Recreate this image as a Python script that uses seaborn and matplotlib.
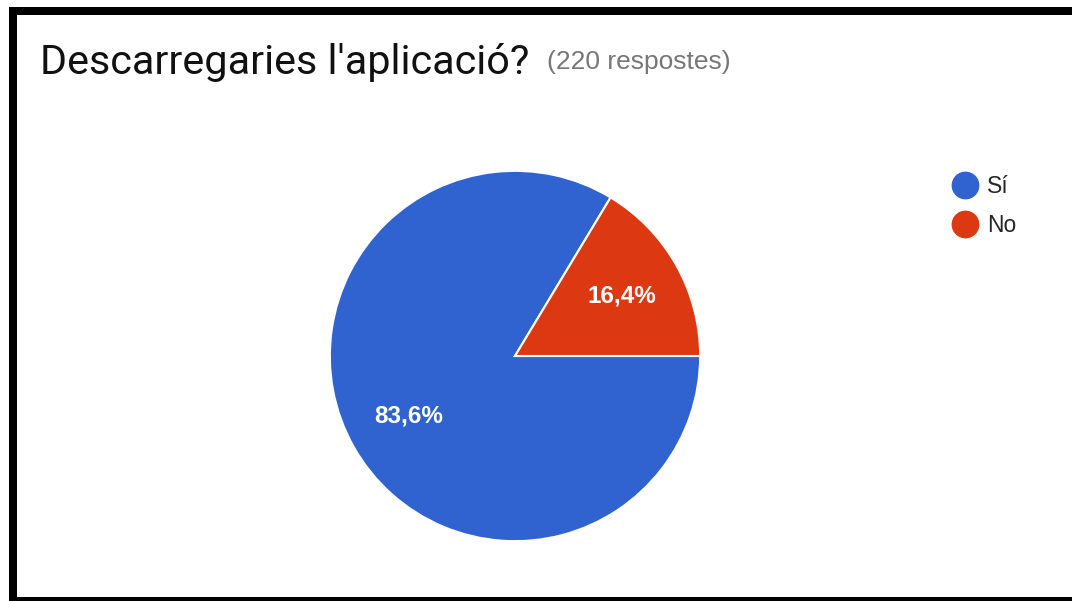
import matplotlib
matplotlib.use("Agg")
import matplotlib.pyplot as plt
from matplotlib.lines import Line2D
from matplotlib.patches import Rectangle
import seaborn as sns

# Survey answers
title = "Descarregaries l'aplicació?"
subtitle = "(220 respostes)"
answers = ["Sí", "No"]
counts = [184, 36]
colors = ["#3063cf", "#dc3912"]

sns.set_theme(style="white")
plt.rcParams["font.family"] = ["Liberation Sans", "DejaVu Sans"]

W, H = 1072, 601
fig = plt.figure(figsize=(W / 100, H / 100), dpi=100)
fig.patch.set_facecolor("white")

# Open black frame on left, top and bottom
frame = dict(transform=fig.transFigure, color="black", lw=0, zorder=10)
fig.add_artist(Rectangle((9 / W, 0), 8 / W, 1 - 7 / H, **frame))
fig.add_artist(Rectangle((9 / W, 1 - 15 / H), 1 - 9 / W, 8 / H, **frame))
fig.add_artist(Rectangle((9 / W, 0), 1 - 9 / W, 4 / H, **frame))

# Pie
cx, cy, r = 515, 356, 187
ax = fig.add_axes([(cx - r) / W, (H - cy - r) / H, 2 * r / W, 2 * r / H])
start = 360 * counts[1] / sum(counts)
wedges, _, autotexts = ax.pie(
    counts,
    colors=colors,
    startangle=start,
    counterclock=True,
    autopct=lambda p: f"{p:.1f}%".replace(".", ","),
    pctdistance=0.66,
    wedgeprops=dict(edgecolor="white", linewidth=1.5),
    textprops=dict(color="white", fontsize=17.5, fontweight="bold"),
)
ax.set_xlim(-1.01, 1.01)
ax.set_ylim(-1.01, 1.01)
ax.set_aspect("equal")
ax.axis("off")

# Title
fig.text(40 / W, 1 - 62 / H, title, fontsize=29.8, color="#111111",
         family=["Roboto", "DejaVu Sans"], va="center", ha="left")
fig.text(547 / W, 1 - 62 / H, subtitle, fontsize=19, color="#777777",
         va="center", ha="left")

# Legend
handles = [Line2D([], [], marker="o", ls="", markersize=19, color=c) for c in colors]
fig.legend(handles, answers, loc="upper left", bbox_to_anchor=(942 / W, 1 - 166 / H),
           frameon=False, fontsize=16.5, handletextpad=0.35, labelspacing=0.68,
           handlelength=1.2, borderaxespad=0)

fig.savefig("out.png", dpi=100)
